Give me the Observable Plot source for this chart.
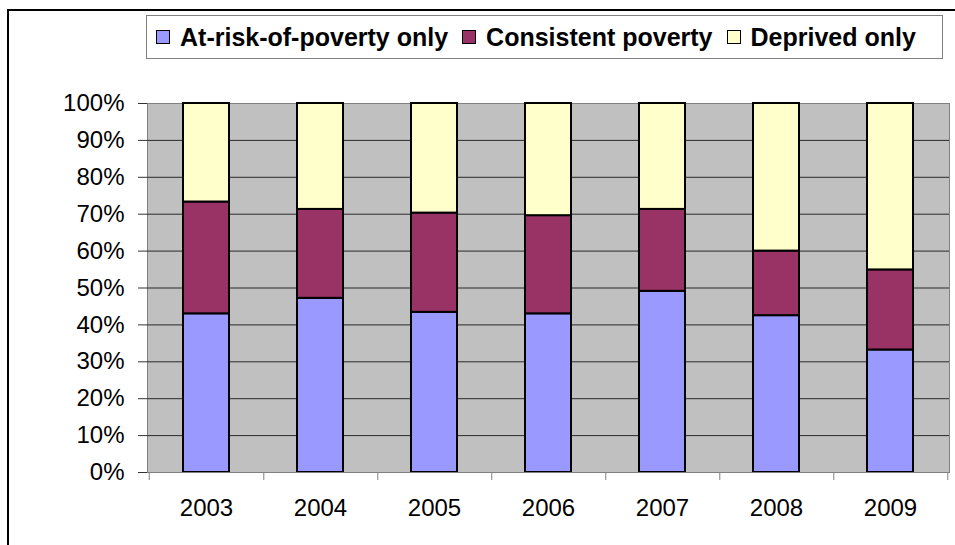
<!DOCTYPE html>
<html>
<head>
<meta charset="utf-8">
<script src="https://cdn.jsdelivr.net/npm/d3@7"></script>
<script src="https://cdn.jsdelivr.net/npm/@observablehq/plot@0.6"></script>
<style>
  html, body { margin: 0; padding: 0; background: #fff; overflow: hidden; }
  #wrap { position: relative; width: 955px; height: 545px; overflow: hidden; font-family: "Liberation Sans", Arial, sans-serif; }
  #border { position: absolute; left: 7px; top: 9px; width: 960px; height: 560px; border: 2px solid #000; box-sizing: border-box; pointer-events: none; }
  #legend { position: absolute; left: 146px; top: 15px; width: 797px; height: 44px; border: 1px solid #808080; box-sizing: border-box; background: #fff;
            display: flex; align-items: center; padding-left: 9px; font-weight: bold; font-size: 25px; color: #000; white-space: nowrap; }
  .item { display: flex; align-items: center; margin-right: 14px; }
  .sw { width: 12px; height: 12px; border: 1px solid #000; margin-right: 10px; }
  #chart { position: absolute; left: 0; top: 0; }
</style>
</head>
<body>
<div id="wrap">
  <div id="chart"></div>
  <div id="border"></div>
  <div id="legend"></div>
</div>
<script>
const years = ["2003", "2004", "2005", "2006", "2007", "2008", "2009"];
const seriesNames = ["At-risk-of-poverty only", "Consistent poverty", "Deprived only"];
const seriesColors = ["#9999ff", "#993366", "#ffffcc"];
const atRiskOnly = [43.0, 47.2, 43.4, 43.0, 49.1, 42.5, 33.2];
const consistentPoverty = [30.3, 24.1, 26.9, 26.6, 22.2, 17.5, 21.7];
const deprivedOnly = [26.7, 28.7, 29.7, 30.4, 28.7, 40.0, 45.1];
const yTicks = [0, 10, 20, 30, 40, 50, 60, 70, 80, 90, 100];

const seriesValues = [atRiskOnly, consistentPoverty, deprivedOnly];
const table = [];
seriesNames.forEach((s, i) => {
  years.forEach((y, j) => table.push({year: y, series: s, value: seriesValues[i][j]}));
});

const W = 955, H = 545, mL = 147, mR = 6, mT = 103, mB = 73;
const step = (W - mL - mR) / years.length;

const plot = Plot.plot({
  width: W,
  height: H,
  marginLeft: mL,
  marginRight: mR,
  marginTop: mT,
  marginBottom: mB,
  style: {fontFamily: '"Liberation Sans", Arial, sans-serif', background: "transparent", color: "#000", overflow: "visible"},
  x: {domain: years, paddingInner: 0.6, paddingOuter: 0.3, label: null},
  y: {domain: [0, 100], label: null},
  color: {domain: seriesNames, range: seriesColors},
  marks: [
    Plot.frame({fill: "#c0c0c0", stroke: "#808080"}),
    Plot.ruleY(yTicks.filter(d => d > 0 && d < 100), {y: d => d, stroke: "#2a2a2a", strokeWidth: 1}),
    Plot.barY(table, {x: "year", y: "value", fill: "series", stroke: "#000", strokeWidth: 2}),
    Plot.axisY({ticks: yTicks, tickFormat: d => d + "%", tickSize: 9, tickPadding: 14, fontSize: 24, stroke: "#333"}),
    Plot.axisX({tickSize: 0, tickPadding: 26, fontSize: 24}),
    Plot.axisX({ticks: years, tickFormat: () => "", tickSize: 8, dx: step / 2, stroke: "#808080"}),
    Plot.axisX({ticks: [years[0]], tickFormat: () => "", tickSize: 8, dx: -step / 2, stroke: "#808080"}),
    Plot.ruleY([0], {stroke: "#808080"})
  ]
});
document.getElementById("chart").appendChild(plot);

const legend = document.getElementById("legend");
seriesNames.forEach((s, i) => {
  const item = document.createElement("div");
  item.className = "item";
  const sw = document.createElement("div");
  sw.className = "sw";
  sw.style.background = seriesColors[i];
  const t = document.createElement("span");
  t.textContent = s;
  item.appendChild(sw);
  item.appendChild(t);
  legend.appendChild(item);
});
</script>
</body>
</html>
